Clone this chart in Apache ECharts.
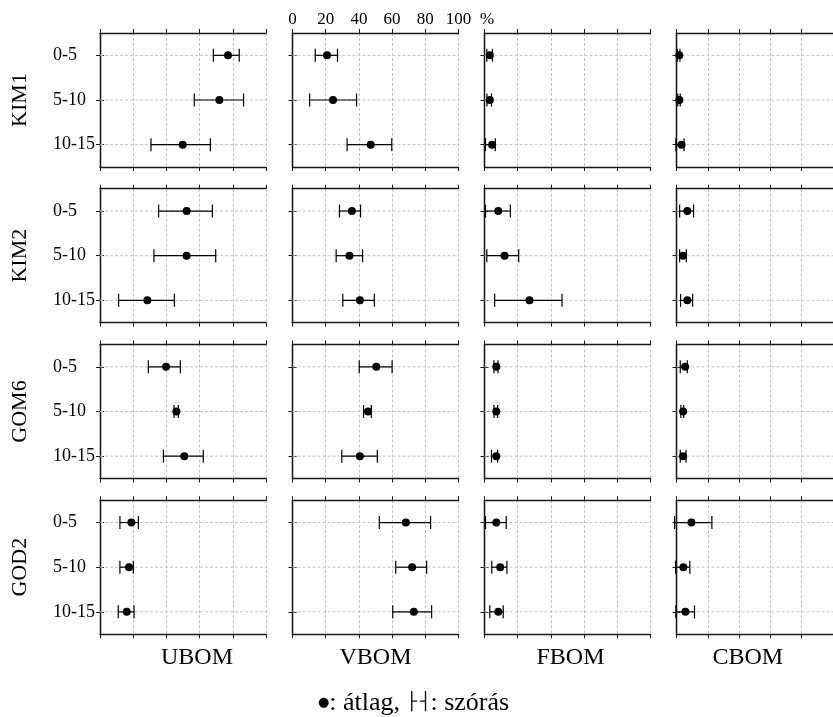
<!DOCTYPE html>
<html><head><meta charset="utf-8">
<script src="https://cdn.jsdelivr.net/npm/echarts@6/dist/echarts.min.js"></script>
<style>html,body{margin:0;padding:0;background:#fff}#c{width:833px;height:717px}</style>
</head><body><div id="c"></div>
<script>
const depths = ['0-5', '5-10', '10-15'];
const stations = ['KIM1', 'KIM2', 'GOM6', 'GOD2'];
const fractions = ['UBOM', 'VBOM', 'FBOM', 'CBOM'];
const xTicks = [0, 20, 40, 60, 80, 100];

// per station: one row per fraction (UBOM, VBOM, FBOM, CBOM), values per depth
const KIM1_mean = [[77.1, 71.9, 49.8], [20.8, 24.4, 47.1], [3.2, 3.2, 4.6], [1.8, 1.8, 3.2]];
const KIM1_low  = [[68.3, 56.8, 30.7], [13.7, 10.3, 32.9], [1.4, 1.5, 0.6], [0.5, 0.8, -0.4]];
const KIM1_high = [[83.9, 86.5, 66.5], [27.1, 38.6, 59.8], [4.8, 4.2, 6.5], [2.2, 2.4, 4.8]];

const KIM2_mean = [[52.2, 52.2, 28.5], [35.8, 34.3, 40.6], [8.3, 12.1, 27.1], [6.9, 4.2, 6.9]];
const KIM2_low  = [[35.3, 32.5, 11.2], [28.3, 26.3, 30.3], [0.6, 1.4, 6.1], [2.0, 2.0, 2.6]];
const KIM2_high = [[67.7, 69.7, 44.8], [41.0, 42.2, 49.3], [15.6, 20.6, 46.7], [10.9, 6.3, 10.3]];

const GOM6_mean = [[39.8, 46.0, 50.8], [50.5, 45.5, 40.6], [7.1, 7.1, 7.1], [5.5, 4.2, 4.2]];
const GOM6_low  = [[29.1, 44.6, 38.2], [40.2, 42.8, 29.7], [5.7, 5.7, 4.2], [2.4, 2.8, 2.4]];
const GOM6_high = [[48.4, 47.2, 62.2], [60.0, 47.5, 51.1], [8.1, 7.9, 7.9], [6.9, 4.6, 6.1]];

const GOD2_mean = [[18.9, 17.5, 16.1], [68.3, 72.1, 73.1], [7.1, 9.5, 8.3], [9.5, 4.4, 5.7]];
const GOD2_low  = [[12.0, 12.0, 11.0], [52.3, 62.2, 60.4], [0.6, 4.4, 3.2], [-1.2, -0.6, -0.4]];
const GOD2_high = [[23.1, 20.1, 20.5], [83.2, 80.8, 83.8], [13.1, 13.5, 11.3], [22.6, 8.5, 11.5]];

const means = [KIM1_mean, KIM2_mean, GOM6_mean, GOD2_mean];
const lows  = [KIM1_low, KIM2_low, GOM6_low, GOD2_low];
const highs = [KIM1_high, KIM2_high, GOM6_high, GOD2_high];

// layout
const colLeft = [100, 292.5, 484.5, 676.5];
const panelW = 166;
const rowTop = [33, 188.7, 344.5, 500.2];
const panelH = 134;
const namePad = [[0, 0, 0, 28], [0, 0, 0, 0], [0, 0, 0, 6], [0, 14, 0, 0]];
const FONT = '"Liberation Serif", "Times New Roman", serif';
const lineCol = '#1a1a1a';
const gridCol = '#c4c4c4';

const grid = [], xAxis = [], yAxis = [], series = [];

function renderErr(params, api) {
  const c = api.value(2);
  const lo = api.coord([api.value(0), c]);
  const hi = api.coord([api.value(1), c]);
  const cs = params.coordSys;
  const y = lo[1], h = 6.5;
  return {
    type: 'group',
    children: [
      { type: 'line', z2: 0, shape: { x1: cs.x, y1: y, x2: cs.x + cs.width, y2: y },
        style: { stroke: gridCol, lineWidth: 1, lineDash: [3, 2] } },
      { type: 'line', z2: 1, shape: { x1: lo[0], y1: y, x2: hi[0], y2: y },
        style: { stroke: '#000', lineWidth: 1.2 } },
      { type: 'line', z2: 1, shape: { x1: lo[0], y1: y - h, x2: lo[0], y2: y + h },
        style: { stroke: '#000', lineWidth: 1.2 } },
      { type: 'line', z2: 1, shape: { x1: hi[0], y1: y - h, x2: hi[0], y2: y + h },
        style: { stroke: '#000', lineWidth: 1.2 } }
    ]
  };
}

let gi = 0;
for (let r = 0; r < stations.length; r++) {
  for (let c = 0; c < fractions.length; c++) {
    grid.push({ left: colLeft[c], top: rowTop[r], width: panelW, height: panelH, containLabel: false });
    const baseX = {
      type: 'value', gridIndex: gi, min: 0, max: 100, interval: 20,
      axisLine: { show: true, lineStyle: { color: lineCol, width: 1.3 } },
      axisTick: { show: true, inside: false, length: 4, lineStyle: { color: lineCol, width: 1 } },
      splitLine: { show: false },
      axisLabel: { show: false }
    };
    xAxis.push(Object.assign({}, baseX, {
      position: 'bottom',
      splitLine: { show: true, lineStyle: { color: gridCol, type: [3, 2], width: 1 } },
      name: r === stations.length - 1 ? fractions[c] : '',
      nameLocation: 'middle', nameGap: 12,
      nameTextStyle: { fontFamily: FONT, fontSize: 24, color: '#000', padding: namePad[c] }
    }));
    xAxis.push(Object.assign({}, baseX, {
      position: 'top',
      axisLabel: {
        show: r === 0 && c === 1, fontFamily: FONT, fontSize: 17, color: '#000', margin: 5,
        formatter: v => (xTicks.indexOf(v) >= 0 ? String(v) : '')
      }
    }));
    const baseY = {
      type: 'category', gridIndex: gi, data: depths, inverse: true, boundaryGap: true,
      axisLine: { show: true, lineStyle: { color: lineCol, width: 1.3 } },
      axisTick: { show: true, inside: false, alignWithLabel: true, length: 4, lineStyle: { color: lineCol, width: 1 } },
      splitLine: { show: false },
      axisLabel: { show: false }
    };
    yAxis.push(Object.assign({}, baseY, {
      position: 'left',
      axisLabel: { show: c === 0, align: 'left', margin: 47, fontFamily: FONT, fontSize: 18, color: '#000' },
      name: c === 0 ? stations[r] : '',
      nameLocation: 'middle', nameGap: 69, nameRotate: 90,
      nameTextStyle: { fontFamily: FONT, fontSize: 22, color: '#000' }
    }));
    yAxis.push(Object.assign({}, baseY, { position: 'right' }));

    const errData = depths.map((d, i) => [lows[r][c][i], highs[r][c][i], i]);
    const ptData = depths.map((d, i) => [means[r][c][i], i]);
    series.push({
      type: 'custom', xAxisIndex: 2 * gi, yAxisIndex: 2 * gi, z: 3,
      renderItem: renderErr, data: errData, encode: { x: [0, 1], y: 2 }, clip: false, silent: true
    });
    series.push({
      type: 'scatter', xAxisIndex: 2 * gi, yAxisIndex: 2 * gi, z: 4,
      symbol: 'circle', symbolSize: 8, itemStyle: { color: '#000', opacity: 1 },
      data: ptData, silent: true
    });
    gi++;
  }
}

const chart = echarts.init(document.getElementById('c'), null, { renderer: 'canvas' });
chart.setOption({
  backgroundColor: '#fff',
  animation: false,
  grid, xAxis, yAxis, series,
  graphic: [
    { type: 'text', left: 480, top: 11,
      style: { text: '%', font: '17px ' + FONT, fill: '#000' } },
    { type: 'text', left: 318, top: 690,
      style: {
        text: '{d|●}: átlag, {b|├\u2009┤}: szórás',
        font: '26px ' + FONT, fill: '#000',
        rich: {
          d: { fontFamily: 'DejaVu Sans', fontSize: 13, fill: '#000' },
          b: { fontFamily: 'DejaVu Sans', fontSize: 17, fill: '#000' }
        }
      } }
  ]
});
</script></body></html>
